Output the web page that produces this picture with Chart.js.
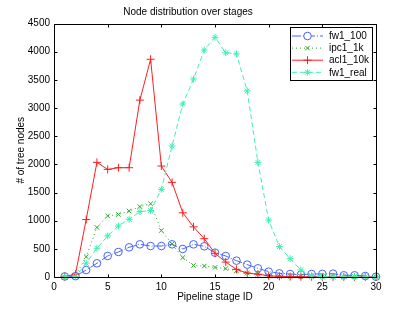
<!DOCTYPE html>
<html>
<head>
<meta charset="utf-8">
<script src="https://cdn.jsdelivr.net/npm/chart.js@4/dist/chart.umd.min.js"></script>
<style>
  html, body { margin: 0; padding: 0; background: #fff; }
  #wrap { width: 415px; height: 312px; }
</style>
</head>
<body>
<div id="wrap"><canvas id="myChart" width="415" height="312"></canvas></div>
<script>
// values
var stages = [1,2,3,4,5,6,7,8,9,10,11,12,13,14,15,16,17,18,19,20,21,22,23,24,25,26,27,28,29,30];
var fw1_100 = [10,15,124,243,373,444,527,580,550,550,580,497,580,545,432,373,290,220,154,95,65,53,41,53,55,59,30,30,18,5];
var ipc1_1k = [0,20,360,880,1085,1110,1170,1250,1300,825,585,345,205,195,170,150,110,70,50,25,10,10,10,5,5,5,5,5,5,5];
var acl1_10k = [5,50,1020,2035,1910,1940,1940,3140,3865,1970,1680,1140,890,680,420,265,135,70,50,20,12,8,5,5,3,3,3,3,3,3];
var fw1_real = [0,10,245,510,730,905,1025,1160,1180,1555,2325,3070,3515,4030,4255,3980,3960,3305,2035,1010,540,325,125,20,10,5,5,5,5,5];
var xTicks = [0,5,10,15,20,25,30];
var yTicks = [0,500,1000,1500,2000,2500,3000,3500,4000,4500];

function pts(vals){
	return stages.map(function(s, i){ return {x: s, y: vals[i]}; });
}

var FONT = "'Liberation Sans', Arial, Helvetica, sans-serif";

// matlab style box, inward ticks on all four sides, legend inside
var matlabBox = {
	id: "matlabBox",
	afterDraw: function(chart){
		var ctx = chart.ctx;
		var a = chart.chartArea;
		var xs = chart.scales.x, ys = chart.scales.y;
		var L = Math.round(a.left) + 0.5, R = Math.round(a.right) + 0.5;
		var T = Math.round(a.top) + 0.5, B = Math.round(a.bottom) + 0.5;
		var tl = 3;
		ctx.save();
		ctx.strokeStyle = "#000";
		ctx.lineWidth = 1;
		ctx.setLineDash([]);
		ctx.beginPath();
		ctx.rect(L, T, R - L, B - T);
		xTicks.forEach(function(v){
			var px = Math.round(xs.getPixelForValue(v)) + 0.5;
			ctx.moveTo(px, B); ctx.lineTo(px, B - tl);
			ctx.moveTo(px, T); ctx.lineTo(px, T + tl);
		});
		yTicks.forEach(function(v){
			var py = Math.round(ys.getPixelForValue(v)) + 0.5;
			ctx.moveTo(L, py); ctx.lineTo(L + tl, py);
			ctx.moveTo(R, py); ctx.lineTo(R - tl, py);
		});
		ctx.stroke();

		// legend
		var bx = 290.5, by = 27.5, bw = 82, bh = 53;
		ctx.fillStyle = "#fff";
		ctx.fillRect(bx, by, bw, bh);
		ctx.strokeRect(bx, by, bw, bh);
		ctx.font = "10px " + FONT;
		ctx.textBaseline = "middle";
		ctx.textAlign = "left";
		chart.data.datasets.forEach(function(ds, i){
			var y = 36 + i * 12.1;
			ctx.strokeStyle = ds.borderColor;
			ctx.lineWidth = 1;
			ctx.setLineDash(ds.borderDash || []);
			ctx.beginPath();
			ctx.moveTo(292, y); ctx.lineTo(323, y);
			ctx.stroke();
			ctx.setLineDash([]);
			Chart.helpers.drawPoint(ctx, {
				pointStyle: ds.pointStyle, radius: ds.pointRadius, rotation: 0, borderWidth: 1
			}, 307.5, y);
			ctx.fillStyle = "#000";
			ctx.fillText(ds.label, 329, y + 0.5);
		});
		ctx.restore();
	}
};

function series(label, vals, color, dash, style, r, order){
	return {
		label: label,
		data: pts(vals),
		borderColor: color,
		backgroundColor: "rgba(0,0,0,0)",
		pointBorderColor: color,
		pointBackgroundColor: "rgba(0,0,0,0)",
		borderWidth: 1,
		borderDash: dash,
		pointStyle: style,
		pointRadius: r,
		pointBorderWidth: 1,
		tension: 0,
		fill: false,
		clip: false,
		order: order
	};
}

var myChart = new Chart(document.getElementById("myChart"), {
	type: "line",
	data: {
		datasets: [
			series("fw1_100", fw1_100, "rgb(70,100,255)", [9,2,1,2], "circle", 3.8, 3),
			series("ipc1_1k", ipc1_1k, "rgb(40,170,40)", [1,3], "crossRot", 3.2, 2),
			series("acl1_10k", acl1_10k, "rgb(255,30,30)", [], "cross", 4, 1),
			series("fw1_real", fw1_real, "rgb(60,240,175)", [5,3], "star", 3.4, 0)
		]
	},
	options: {
		responsive: false,
		animation: false,
		devicePixelRatio: 1,
		layout: { padding: { left: 0, right: 39, top: 0, bottom: 0 } },
		plugins: {
			legend: { display: false },
			tooltip: { enabled: false },
			title: {
				display: true,
				text: "Node distribution over stages",
				color: "#000",
				font: { family: FONT, size: 10, weight: "normal" },
				padding: { top: 6.7, bottom: 4.8 }
			}
		},
		scales: {
			x: {
				type: "linear",
				min: 0, max: 30,
				afterFit: function(s){ s.height = 35; },
				afterBuildTicks: function(s){ s.ticks = xTicks.map(function(v){ return {value: v}; }); },
				grid: { display: false, drawTicks: false },
				border: { display: false },
				ticks: { color: "#000", padding: 4, maxRotation: 0, font: { family: FONT, size: 10 },
					callback: function(v){ return String(v); } },
				title: {
					display: true, text: "Pipeline stage ID", color: "#000",
					font: { family: FONT, size: 10 },
					padding: { top: 0, bottom: 9 }
				}
			},
			y: {
				type: "linear",
				min: 0, max: 4500,
				afterFit: function(s){ s.width = 54; },
				afterBuildTicks: function(s){ s.ticks = yTicks.map(function(v){ return {value: v}; }); },
				grid: { display: false, drawTicks: false },
				border: { display: false },
				ticks: { color: "#000", padding: 4, font: { family: FONT, size: 10 },
					callback: function(v){ return String(v); } },
				title: {
					display: true, text: "# of tree nodes", color: "#000",
					font: { family: FONT, size: 10 },
					padding: { top: 15, bottom: 0 }
				}
			}
		}
	},
	plugins: [matlabBox]
});
</script>
</body>
</html>
